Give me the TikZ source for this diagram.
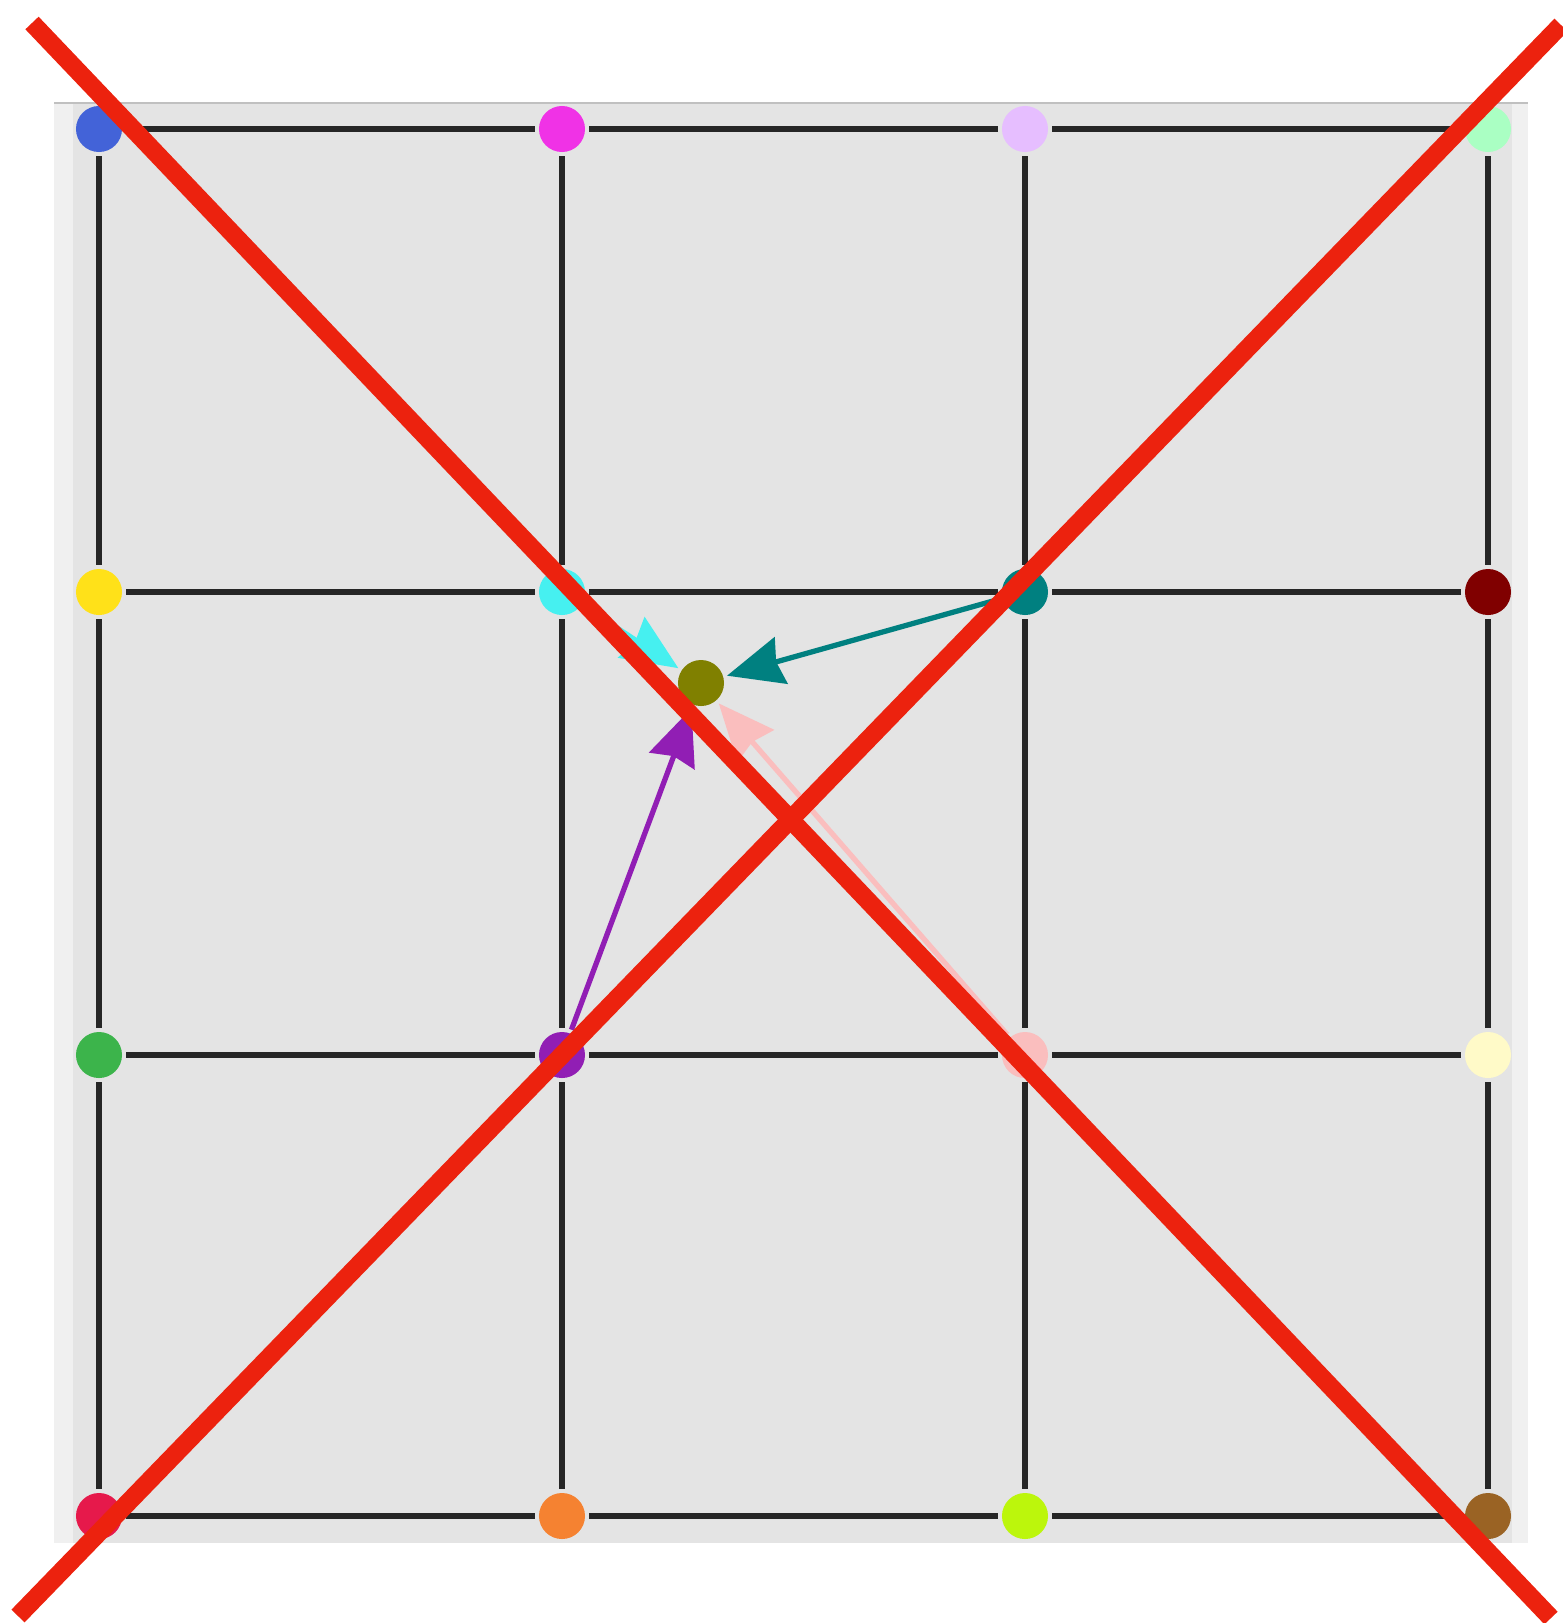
\documentclass[tikz,border=0pt]{standalone}
\usepackage{tikz}
\usetikzlibrary{arrows.meta}
\definecolor{crossred}{RGB}{236,34,14}
\definecolor{panelout}{RGB}{240,240,240}
\definecolor{panelin}{RGB}{228,228,228}
\definecolor{paneledge}{RGB}{192,192,192}
\definecolor{cblue}{RGB}{67,99,216}
\definecolor{cmagenta}{RGB}{240,50,230}
\definecolor{clavender}{RGB}{230,190,255}
\definecolor{cmint}{RGB}{170,255,195}
\definecolor{cyellow}{RGB}{255,225,25}
\definecolor{ccyan}{RGB}{70,240,240}
\definecolor{cteal}{RGB}{0,128,128}
\definecolor{cmaroon}{RGB}{128,0,0}
\definecolor{cgreen}{RGB}{60,180,75}
\definecolor{cpurple}{RGB}{145,30,180}
\definecolor{cpink}{RGB}{250,190,190}
\definecolor{cbeige}{RGB}{255,250,200}
\definecolor{ccrimson}{RGB}{230,25,75}
\definecolor{corange}{RGB}{245,130,49}
\definecolor{clime}{RGB}{188,246,12}
\definecolor{cbrown}{RGB}{154,99,36}
\definecolor{colive}{RGB}{128,128,0}

\begin{document}
\begin{tikzpicture}[x=0.01cm, y=-0.01cm,
  dot/.style={circle, minimum size=0.46cm, inner sep=0pt, outer sep=0.04cm},
  gridline/.style={line width=1.7pt, black!85},
  moveto/.style={line width=1.5pt, -{Stealth[length=0.56cm, width=0.48cm, inset=0.05cm]}},
  crossline/.style={crossred, line width=5.2pt}]
\useasboundingbox (0,0) rectangle (1563,1623);

% Board
\fill[panelout] (54,103) rectangle (1528,1543);
\fill[panelin] (73,103) rectangle (1512,1543);
\draw[paneledge, line width=0.7pt] (54,103) -- (1528,103);

% Points
\node[dot, fill=cblue]     (a1) at (99,129) {};
\node[dot, fill=cmagenta]  (a2) at (562,129) {};
\node[dot, fill=clavender] (a3) at (1025,129) {};
\node[dot, fill=cmint]     (a4) at (1488,129) {};
\node[dot, fill=cyellow]   (b1) at (99,592) {};
\node[dot, fill=ccyan]     (b2) at (562,592) {};
\node[dot, fill=cteal]     (b3) at (1025,592) {};
\node[dot, fill=cmaroon]   (b4) at (1488,592) {};
\node[dot, fill=cgreen]    (c1) at (99,1055) {};
\node[dot, fill=cpurple]   (c2) at (562,1055) {};
\node[dot, fill=cpink]     (c3) at (1025,1055) {};
\node[dot, fill=cbeige]    (c4) at (1488,1055) {};
\node[dot, fill=ccrimson]  (d1) at (99,1516) {};
\node[dot, fill=corange]   (d2) at (562,1516) {};
\node[dot, fill=clime]     (d3) at (1025,1516) {};
\node[dot, fill=cbrown]    (d4) at (1488,1516) {};
\node[dot, fill=colive]    (mid) at (701,683) {};

% Grid
\draw[gridline] (a1) -- (a2) -- (a3) -- (a4);
\draw[gridline] (b1) -- (b2) -- (b3) -- (b4);
\draw[gridline] (c1) -- (c2) -- (c3) -- (c4);
\draw[gridline] (d1) -- (d2) -- (d3) -- (d4);
\draw[gridline] (a1) -- (b1) -- (c1) -- (d1);
\draw[gridline] (a2) -- (b2) -- (c2) -- (d2);
\draw[gridline] (a3) -- (b3) -- (c3) -- (d3);
\draw[gridline] (a4) -- (b4) -- (c4) -- (d4);

% Moves into the middle point
\draw[moveto, ccyan] (b2) -- (mid);
\draw[moveto, cteal] (b3) -- (mid);
\draw[moveto, cpurple] (c2) -- (mid);
\draw[moveto, cpink] (c3) -- (mid);

% Cross
\draw[crossline] (32,23) -- (1551,1618);
\draw[crossline] (18,1616) -- (1561,25);

\end{tikzpicture}
\end{document}
